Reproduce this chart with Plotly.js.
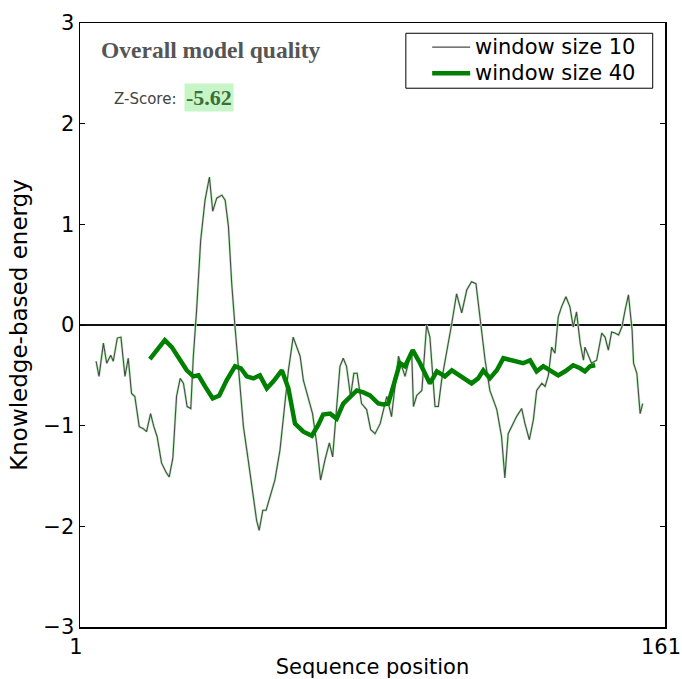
<!DOCTYPE html>
<html>
<head>
<meta charset="utf-8">
<script src="https://cdn.plot.ly/plotly-3.0.1.min.js"></script>
<style>html,body{margin:0;padding:0;background:#fff;}#chart{width:682px;height:679px;}</style>
</head>
<body>
<div id="chart"></div>
<script>
// window size 10 (thin line)
const pos10 = [5.4,6.2,7.4,8.3,9.4,10.1,11.2,12.2,13.3,14.2,15.1,16.0,17.2,18.3,19.2,20.3,21.2,22.1,23.3,24.5,25.4,26.4,27.4,28.4,29.3,30.3,31.3,32.0,32.9,34.0,35.2,36.4,37.3,38.4,39.8,40.7,41.6,42.5,43.4,44.6,45.7,47.0,48.4,49.3,50.0,51.0,51.9,53.0,54.3,55.7,56.8,58.0,59.3,60.3,61.2,62.1,63.4,64.6,65.7,66.8,68.0,69.2,70.1,71.2,72.1,73.0,73.9,75.0,75.9,76.8,78.0,79.4,80.5,81.7,83.1,84.9,86.2,88.1,89.9,91.7,92.2,93.1,94.5,95.8,96.7,98.1,99.0,99.9,101.3,102.7,104.0,105.4,106.8,108.1,109.3,110.4,111.8,113.1,115.0,116.3,117.2,118.1,119.5,120.4,121.8,122.7,123.9,125.0,125.9,127.3,128.2,129.1,130.0,130.9,131.8,132.7,133.9,135.0,135.9,136.8,137.8,138.7,139.1,140.0,140.9,142.3,143.7,144.6,145.5,146.4,147.3,148.3,149.2,150.1,151.0,152.0,152.4,153.3,154.2,154.9];
const energy10 = [-0.36,-0.51,-0.18,-0.38,-0.30,-0.36,-0.13,-0.12,-0.51,-0.33,-0.68,-0.71,-1.01,-1.03,-1.06,-0.88,-1.01,-1.11,-1.37,-1.46,-1.51,-1.32,-0.71,-0.53,-0.58,-0.81,-0.83,-0.31,0.15,0.84,1.24,1.47,1.13,1.26,1.29,1.24,0.98,0.41,-0.02,-0.55,-1.01,-1.34,-1.74,-1.94,-2.04,-1.84,-1.84,-1.71,-1.54,-1.24,-0.84,-0.45,-0.12,-0.22,-0.31,-0.55,-0.71,-0.88,-1.17,-1.54,-1.34,-1.17,-1.31,-0.84,-0.41,-0.33,-0.41,-0.71,-0.48,-0.48,-0.78,-0.84,-1.04,-1.08,-0.98,-0.71,-0.91,-0.31,-0.51,-0.25,-0.81,-0.70,-0.65,0.00,-0.12,-0.81,-0.81,-0.55,-0.28,0.02,0.31,0.12,0.35,0.43,0.41,0.05,-0.35,-0.65,-0.84,-1.11,-1.52,-1.08,-0.98,-0.91,-0.83,-0.98,-1.14,-0.94,-0.65,-0.58,-0.61,-0.50,-0.22,-0.28,0.08,0.18,0.28,0.18,-0.02,0.13,-0.18,-0.35,-0.22,-0.31,-0.38,-0.35,-0.08,-0.12,-0.25,-0.07,-0.08,-0.10,-0.02,0.15,0.30,-0.05,-0.38,-0.48,-0.88,-0.78];
// window size 40 (thick line)
const pos40 = [20.1,22.0,24.2,26.1,28.4,30.2,32.0,33.4,35.2,37.3,39.1,41.1,43.4,45.0,46.6,48.4,50.2,52.1,53.9,56.2,58.0,59.8,62.1,64.4,66.2,67.5,69.4,71.2,73.0,74.8,76.7,78.5,80.3,82.6,84.0,85.3,87.2,88.5,89.9,92.0,94.0,96.7,98.6,100.8,102.7,104.9,108.1,109.9,111.3,113.1,115.0,116.8,118.6,120.4,122.2,124.1,125.9,127.7,129.5,131.8,133.7,135.9,137.8,139.1,140.5,141.9];
const energy40 = [-0.34,-0.25,-0.15,-0.22,-0.35,-0.45,-0.51,-0.50,-0.61,-0.73,-0.70,-0.55,-0.41,-0.43,-0.51,-0.53,-0.50,-0.63,-0.56,-0.45,-0.63,-0.98,-1.06,-1.10,-0.99,-0.89,-0.88,-0.93,-0.78,-0.71,-0.65,-0.67,-0.70,-0.78,-0.79,-0.78,-0.55,-0.38,-0.41,-0.25,-0.38,-0.58,-0.46,-0.51,-0.45,-0.50,-0.58,-0.53,-0.45,-0.53,-0.45,-0.33,-0.35,-0.36,-0.38,-0.35,-0.46,-0.41,-0.45,-0.50,-0.46,-0.40,-0.43,-0.46,-0.41,-0.40];
const seriesNames = ['window size 10', 'window size 40'];
const seriesColors = ['#4a4a4a', '#008000'];
const seriesWidths = [1.1, 4.5];
const xTicks = [1, 161];
const yTicks = [-3, -2, -1, 0, 1, 2, 3];
const zScore = '-5.62';

const traces = [
  {x: pos10, y: energy10, mode: 'lines', line: {color: '#b4ecb4', width: 2.4}, showlegend: false, hoverinfo: 'skip'},
  {x: pos10, y: energy10, mode: 'lines', name: seriesNames[0], line: {color: seriesColors[0], width: seriesWidths[0]}, showlegend: false},
  {x: pos40, y: energy40, mode: 'lines', name: seriesNames[1], line: {color: seriesColors[1], width: seriesWidths[1]}, showlegend: false}
];

// legend box (matplotlib style) in paper coordinates
const legRows = [0.960, 0.917];
const shapes = [
  {type: 'rect', xref: 'paper', yref: 'paper', x0: 0.557, x1: 0.979, y0: 0.892, y1: 0.983,
   line: {color: '#000', width: 1}, fillcolor: '#fff', layer: 'above'}
];
const legendAnn = [];
seriesNames.forEach((name, i) => {
  shapes.push({type: 'line', xref: 'paper', yref: 'paper', x0: 0.602, x1: 0.667, y0: legRows[i], y1: legRows[i],
               line: {color: seriesColors[i], width: seriesWidths[i]}, layer: 'above'});
  legendAnn.push({xref: 'paper', yref: 'paper', x: 0.672, y: legRows[i], xanchor: 'left', yanchor: 'middle', showarrow: false,
                  text: name, font: {family: 'DejaVu Sans', size: 21, color: '#000'}});
});

const layout = {
  width: 682, height: 679,
  margin: {l: 80, r: 17, t: 23, b: 52},
  paper_bgcolor: '#fff', plot_bgcolor: '#fff',
  font: {family: 'DejaVu Sans', size: 21, color: '#000'},
  showlegend: false,
  xaxis: {range: [1, 161], tickmode: 'array', tickvals: xTicks, ticktext: xTicks.map(String),
          showgrid: false, zeroline: false, showline: true, linecolor: '#000', linewidth: 1.5, mirror: 'ticks',
          ticks: 'inside', ticklen: 5, tickcolor: '#000', tickfont: {size: 21},
          ticklabelshift: -4, ticklabeloverflow: 'allow',
          title: {text: 'Sequence position', font: {size: 21}, standoff: 2}},
  yaxis: {range: [-3, 3], tickmode: 'array', tickvals: yTicks, ticktext: yTicks.map(v => v < 0 ? '\u2212' + Math.abs(v) : String(v)),
          showgrid: false, zeroline: true, zerolinecolor: '#111', zerolinewidth: 1.5,
          showline: true, linecolor: '#000', linewidth: 1.5, mirror: 'ticks',
          ticks: 'inside', ticklen: 5, tickcolor: '#000', tickfont: {size: 21},
          title: {text: 'Knowledge-based energy', font: {size: 23}, standoff: 9}},
  shapes: shapes,
  annotations: [
    {xref: 'paper', yref: 'paper', x: 0.032, y: 0.955, xanchor: 'left', yanchor: 'middle', showarrow: false,
     text: '<b>Overall model quality</b>', font: {family: 'Liberation Serif', size: 23.5, color: '#555555'}},
    {xref: 'paper', yref: 'paper', x: 0.054, y: 0.874, xanchor: 'left', yanchor: 'middle', showarrow: false,
     text: 'Z-Score:', font: {family: 'DejaVu Sans', size: 15, color: '#444'}},
    {xref: 'paper', yref: 'paper', x: 0.178, y: 0.876, xanchor: 'left', yanchor: 'middle', showarrow: false,
     text: '<b>' + zScore + '</b>', bgcolor: '#c8f5c8', borderpad: 1,
     font: {family: 'Liberation Serif', size: 22, color: '#3a6e3a'}}
  ].concat(legendAnn)
};

Plotly.newPlot('chart', traces, layout, {displayModeBar: false, staticPlot: true});
</script>
</body>
</html>
